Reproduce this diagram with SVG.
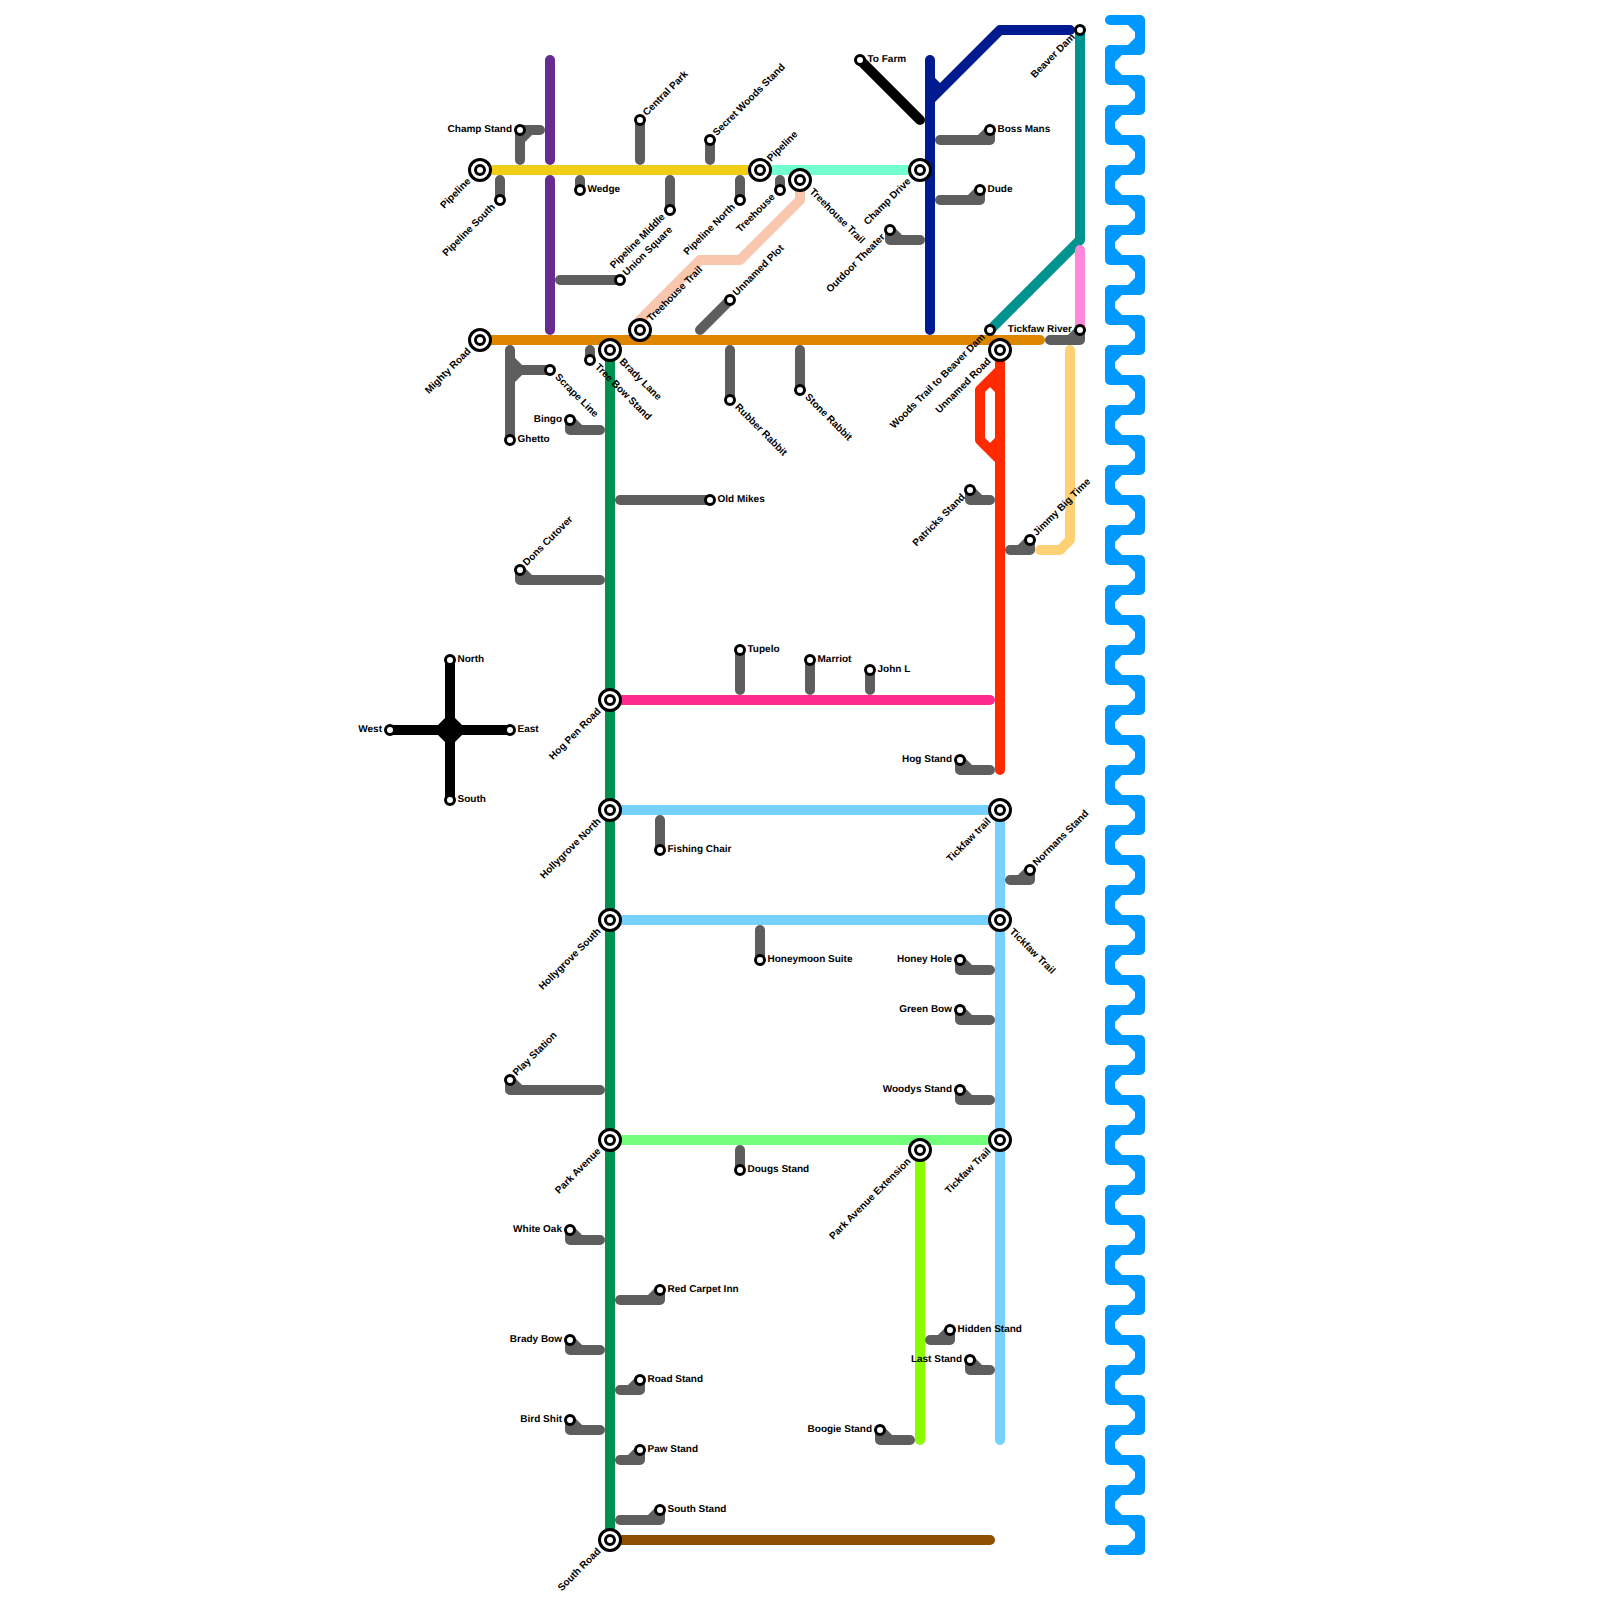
<svg xmlns="http://www.w3.org/2000/svg" width="1600" height="1600" viewBox="0 0 1600 1600">
<style>
.l{fill:none;stroke-width:10;stroke-linecap:round;stroke-linejoin:round}
.gy{stroke:#5e5e5e}.yl{stroke:#f0ce15}.mi{stroke:#73ffd0}.pu{stroke:#662c90}.or{stroke:#df8600}.pe{stroke:#f9c6ae}.gn{stroke:#009150}.pk{stroke:#ff2a8e}.lb{stroke:#76d1ff}.lg{stroke:#73ff7c}.li{stroke:#8cfb00}.br{stroke:#8c5000}.bk{stroke:#000}.nv{stroke:#001a90}.te{stroke:#009490}.pi{stroke:#ff88da}.re{stroke:#ff2a00}.ta{stroke:#ffd175}.bl{stroke:#0099ff}
.ring{fill:#fff;stroke:#000;stroke-width:3}
text{font-family:"Liberation Sans",Arial,sans-serif;font-size:10px;font-weight:700;fill:#000;text-rendering:geometricPrecision}
.e{text-anchor:end}
</style>
<defs>
<g id="s"><circle class="ring" r="4.5"/></g>
<g id="i"><circle class="ring" r="10.5"/><circle class="ring" r="4.5"/></g>
</defs>
<rect width="1600" height="1600" fill="#fff"/>
<g id="connectors">
<path class="l gy" d="M500 180V200M520 160V130H540M520 140L530 130M580 180V190M640 160V120M710 160V140M670 180V210M740 180V200M780 180V190M560 280H620M700 330L730 300M510 350V440M510 360L520 370H550M510 380L520 370M590 350V360M730 350V400M800 350V390"/>
<path class="l gy" d="M600 430H570V420L580 430M620 500H710M600 580H520V570L530 580M740 690V650M810 690V660M870 690V670M990 770H960V760L970 770M660 820V850M1010 880H1030V870L1020 880M760 930V960M990 970H960V960L970 970M990 1020H960V1010L970 1020M600 1090H510V1080L520 1090M990 1100H960V1090L970 1100M740 1150V1170"/>
<path class="l gy" d="M600 1240H570V1230L580 1240M620 1300H660V1290L650 1300M930 1340H950V1330L940 1340M990 1370H970V1360L980 1370M600 1350H570V1340L580 1350M620 1390H640V1380L630 1390M600 1430H570V1420L580 1430M620 1460H640V1450L630 1460M910 1440H880V1430L890 1440M620 1520H660V1510L650 1520"/>
<path class="l gy" d="M940 140H990V130L980 140M940 200H980V190L970 200M920 240H890V230L900 240M1050 340H1080V330L1070 340M1010 550H1030V540L1020 550M990 500H970V490L980 500"/>
<path class="l pu" d="M550 60V160M550 180V330"/>
<path class="l pe" d="M800 180V200L740 260H700L640 320V330"/>
<path class="l mi" d="M760 170H920"/>
<path class="l yl" d="M480 170H750"/>
<path class="l or" d="M480 340H1040"/>
<path class="l gn" d="M610 350V1540"/>
<path class="l pk" d="M610 700H990"/>
<path class="l lb" d="M610 810H1000M610 920H1000M1000 810V1440"/>
<path class="l lg" d="M610 1140H1000"/>
<path class="l li" d="M920 1150V1440"/>
<path class="l br" d="M610 1540H990"/>
<path class="l bk" d="M450 660V800M390 730H510M860 60L920 120"/>
<polygon points="450,713 467,730 450,747 433,730" fill="#000"/>
<path class="l nv" d="M930 60V330M930 80L940 90M930 100L1000 30H1070"/>
<path class="l te" d="M1080 30V240L990 330"/>
<path class="l pi" d="M1080 250V330"/>
<path class="l re" d="M1000 350V770M1000 370L980 390V440L1000 460M990 380L1000 390M990 450L1000 440"/>
<path class="l ta" d="M1070 350V540L1060 550H1040"/>
<path class="l bl" d="M1110 20h30
v30h-30v30h30v30h-30v30h30v30h-30v30h30v30h-30v30h30v30h-30v30h30
v30h-30v30h30v30h-30v30h30v30h-30v30h30v30h-30v30h30v30h-30v30h30
v30h-30v30h30v30h-30v30h30v30h-30v30h30v30h-30v30h30v30h-30v30h30
v30h-30v30h30v30h-30v30h30v30h-30v30h30v30h-30v30h30v30h-30v30h30
v30h-30v30h30v30h-30v30h30v30h-30v30h30v30h-30v30h30v30h-30v30h30
v30h-30"/>
<path class="l bl" d="M1130 20l10 10v10l-10 10h-10l-10 10v10l10 10h10l10 10v10l-10 10h-10l-10 10v10l10 10h10l10 10v10l-10 10h-10l-10 10v10l10 10h10l10 10v10l-10 10h-10l-10 10v10l10 10h10l10 10v10l-10 10h-10l-10 10v10l10 10h10l10 10v10l-10 10h-10l-10 10v10l10 10h10l10 10v10l-10 10h-10l-10 10v10l10 10h10l10 10v10l-10 10h-10l-10 10v10l10 10h10l10 10v10l-10 10h-10l-10 10v10l10 10h10l10 10v10l-10 10h-10l-10 10v10l10 10h10l10 10v10l-10 10h-10l-10 10v10l10 10h10l10 10v10l-10 10h-10l-10 10v10l10 10h10l10 10v10l-10 10h-10l-10 10v10l10 10h10l10 10v10l-10 10h-10l-10 10v10l10 10h10l10 10v10l-10 10h-10l-10 10v10l10 10h10l10 10v10l-10 10h-10l-10 10v10l10 10h10l10 10v10l-10 10h-10l-10 10v10l10 10h10l10 10v10l-10 10h-10l-10 10v10l10 10h10l10 10v10l-10 10h-10l-10 10v10l10 10h10l10 10v10l-10 10h-10l-10 10v10l10 10h10l10 10v10l-10 10h-10l-10 10v10l10 10h10l10 10v10l-10 10h-10l-10 10v10l10 10h10l10 10v10l-10 10h-10l-10 10v10l10 10h10l10 10v10l-10 10h-10l-10 10v10l10 10h10l10 10v10l-10 10h-10l-10 10v10l10 10h10l10 10v10l-10 10"/>
</g>
<g id="n1"><use href="#i" x="480" y="170"/><text class="e" transform="translate(480 170) rotate(-45)" x="-14.5" y="2.2">Pipeline</text></g>
<g id="n2"><use href="#s" x="500" y="200"/><text class="e" transform="translate(500 200) rotate(-45)" x="-8.5" y="2.2">Pipeline South</text></g>
<g id="n3"><use href="#s" x="520" y="130"/><text class="e" x="512" y="132.2">Champ Stand</text></g>
<g id="n4"><use href="#s" x="580" y="190"/><text x="587.5" y="192.2">Wedge</text></g>
<g id="n5"><use href="#s" x="640" y="120"/><text transform="translate(640 120) rotate(-45)" x="7.5" y="2.2">Central Park</text></g>
<g id="n6"><use href="#s" x="710" y="140"/><text transform="translate(710 140) rotate(-45)" x="7.5" y="2.2">Secret Woods Stand</text></g>
<g id="n7"><use href="#s" x="670" y="210"/><text class="e" transform="translate(670 210) rotate(-45)" x="-8.5" y="2.2">Pipeline Middle</text></g>
<g id="n8"><use href="#s" x="740" y="200"/><text class="e" transform="translate(740 200) rotate(-45)" x="-8.5" y="2.2">Pipeline North</text></g>
<g id="n9"><use href="#i" x="760" y="170"/><text transform="translate(760 170) rotate(-45)" x="13.5" y="2.2">Pipeline</text></g>
<g id="n10"><use href="#s" x="780" y="190"/><text class="e" transform="translate(780 190) rotate(-45)" x="-8.5" y="2.2">Treehouse</text></g>
<g id="n11"><use href="#i" x="800" y="180"/><text transform="translate(800 180) rotate(45)" x="15" y="2.2">Treehouse Trail</text></g>
<g id="n12"><use href="#s" x="620" y="280"/><text transform="translate(620 280) rotate(-45)" x="7.5" y="2.2">Union Square</text></g>
<g id="n13"><use href="#i" x="640" y="330"/><text transform="translate(640 330) rotate(-45)" x="13.5" y="2.2">Treehouse Trail</text></g>
<g id="n14"><use href="#s" x="730" y="300"/><text transform="translate(730 300) rotate(-45)" x="7.5" y="2.2">Unnamed Plot</text></g>
<g id="n15"><use href="#i" x="480" y="340"/><text class="e" transform="translate(480 340) rotate(-45)" x="-14.5" y="2.2">Mighty Road</text></g>
<g id="n16"><use href="#i" x="610" y="350"/><text transform="translate(610 350) rotate(45)" x="15" y="2.2">Brady Lane</text></g>
<g id="n17"><use href="#s" x="590" y="360"/><text transform="translate(590 360) rotate(45)" x="8.5" y="2.2">Tree Bow Stand</text></g>
<g id="n18"><use href="#s" x="550" y="370"/><text transform="translate(550 370) rotate(45)" x="8.5" y="2.2">Scrape Line</text></g>
<g id="n19"><use href="#s" x="510" y="440"/><text x="517.5" y="442.2">Ghetto</text></g>
<g id="n20"><use href="#s" x="570" y="420"/><text class="e" x="562" y="422.2">Bingo</text></g>
<g id="n21"><use href="#s" x="730" y="400"/><text transform="translate(730 400) rotate(45)" x="8.5" y="2.2">Rubber Rabbit</text></g>
<g id="n22"><use href="#s" x="800" y="390"/><text transform="translate(800 390) rotate(45)" x="8.5" y="2.2">Stone Rabbit</text></g>
<g id="n23"><use href="#s" x="710" y="500"/><text x="717.5" y="502.2">Old Mikes</text></g>
<g id="n24"><use href="#s" x="520" y="570"/><text transform="translate(520 570) rotate(-45)" x="7.5" y="2.2">Dons Cutover</text></g>
<g id="n25"><use href="#i" x="610" y="700"/><text class="e" transform="translate(610 700) rotate(-45)" x="-14.5" y="2.2">Hog Pen Road</text></g>
<g id="n26"><use href="#s" x="740" y="650"/><text x="747.5" y="652.2">Tupelo</text></g>
<g id="n27"><use href="#s" x="810" y="660"/><text x="817.5" y="662.2">Marriot</text></g>
<g id="n28"><use href="#s" x="870" y="670"/><text x="877.5" y="672.2">John L</text></g>
<g id="n29"><use href="#s" x="960" y="760"/><text class="e" x="952" y="762.2">Hog Stand</text></g>
<g id="n30"><use href="#i" x="610" y="810"/><text class="e" transform="translate(610 810) rotate(-45)" x="-14.5" y="2.2">Hollygrove North</text></g>
<g id="n31"><use href="#s" x="660" y="850"/><text x="667.5" y="852.2">Fishing Chair</text></g>
<g id="n32"><use href="#i" x="1000" y="810"/><text class="e" transform="translate(1000 810) rotate(-45)" x="-14.5" y="2.2">Tickfaw trail</text></g>
<g id="n33"><use href="#s" x="1030" y="870"/><text transform="translate(1030 870) rotate(-45)" x="7.5" y="2.2">Normans Stand</text></g>
<g id="n34"><use href="#i" x="610" y="920"/><text class="e" transform="translate(610 920) rotate(-45)" x="-14.5" y="2.2">Hollygrove South</text></g>
<g id="n35"><use href="#i" x="1000" y="920"/><text transform="translate(1000 920) rotate(45)" x="15" y="2.2">Tickfaw Trail</text></g>
<g id="n36"><use href="#s" x="760" y="960"/><text x="767.5" y="962.2">Honeymoon Suite</text></g>
<g id="n37"><use href="#s" x="960" y="960"/><text class="e" x="952" y="962.2">Honey Hole</text></g>
<g id="n38"><use href="#s" x="960" y="1010"/><text class="e" x="952" y="1012.2">Green Bow</text></g>
<g id="n39"><use href="#s" x="510" y="1080"/><text transform="translate(510 1080) rotate(-45)" x="7.5" y="2.2">Play Station</text></g>
<g id="n40"><use href="#s" x="960" y="1090"/><text class="e" x="952" y="1092.2">Woodys Stand</text></g>
<g id="n41"><use href="#i" x="610" y="1140"/><text class="e" transform="translate(610 1140) rotate(-45)" x="-14.5" y="2.2">Park Avenue</text></g>
<g id="n42"><use href="#s" x="740" y="1170"/><text x="747.5" y="1172.2">Dougs Stand</text></g>
<g id="n43"><use href="#i" x="920" y="1150"/><text class="e" transform="translate(920 1150) rotate(-45)" x="-14.5" y="2.2">Park Avenue Extension</text></g>
<g id="n44"><use href="#i" x="1000" y="1140"/><text class="e" transform="translate(1000 1140) rotate(-45)" x="-14.5" y="2.2">Tickfaw Trail</text></g>
<g id="n45"><use href="#s" x="570" y="1230"/><text class="e" x="562" y="1232.2">White Oak</text></g>
<g id="n46"><use href="#s" x="660" y="1290"/><text x="667.5" y="1292.2">Red Carpet Inn</text></g>
<g id="n47"><use href="#s" x="950" y="1330"/><text x="957.5" y="1332.2">Hidden Stand</text></g>
<g id="n48"><use href="#s" x="970" y="1360"/><text class="e" x="962" y="1362.2">Last Stand</text></g>
<g id="n49"><use href="#s" x="570" y="1340"/><text class="e" x="562" y="1342.2">Brady Bow</text></g>
<g id="n50"><use href="#s" x="640" y="1380"/><text x="647.5" y="1382.2">Road Stand</text></g>
<g id="n51"><use href="#s" x="570" y="1420"/><text class="e" x="562" y="1422.2">Bird Shit</text></g>
<g id="n52"><use href="#s" x="640" y="1450"/><text x="647.5" y="1452.2">Paw Stand</text></g>
<g id="n53"><use href="#s" x="880" y="1430"/><text class="e" x="872" y="1432.2">Boogie Stand</text></g>
<g id="n54"><use href="#s" x="660" y="1510"/><text x="667.5" y="1512.2">South Stand</text></g>
<g id="n55"><use href="#i" x="610" y="1540"/><text class="e" transform="translate(610 1540) rotate(-45)" x="-14.5" y="2.2">South Road</text></g>
<g id="n56"><use href="#s" x="450" y="660"/><text x="457.5" y="662.2">North</text></g>
<g id="n57"><use href="#s" x="450" y="800"/><text x="457.5" y="802.2">South</text></g>
<g id="n58"><use href="#s" x="390" y="730"/><text class="e" x="382" y="732.2">West</text></g>
<g id="n59"><use href="#s" x="510" y="730"/><text x="517.5" y="732.2">East</text></g>
<g id="n60"><use href="#s" x="860" y="60"/><text x="867.5" y="62.2">To Farm</text></g>
<g id="n61"><use href="#s" x="1080" y="30"/><text class="e" transform="translate(1080 30) rotate(-45)" x="-8.5" y="2.2">Beaver Dam</text></g>
<g id="n62"><use href="#s" x="990" y="130"/><text x="997.5" y="132.2">Boss Mans</text></g>
<g id="n63"><use href="#s" x="980" y="190"/><text x="987.5" y="192.2">Dude</text></g>
<g id="n64"><use href="#i" x="920" y="170"/><text class="e" transform="translate(920 170) rotate(-45)" x="-14.5" y="2.2">Champ Drive</text></g>
<g id="n65"><use href="#s" x="890" y="230"/><text class="e" transform="translate(890 230) rotate(-45)" x="-8.5" y="2.2">Outdoor Theater</text></g>
<g id="n66"><use href="#s" x="990" y="330"/><text class="e" transform="translate(990 330) rotate(-45)" x="-8.5" y="2.2">Woods Trail to Beaver Dam</text></g>
<g id="n67"><use href="#s" x="1080" y="330"/><text class="e" x="1072" y="332.2">Tickfaw River</text></g>
<g id="n68"><use href="#i" x="1000" y="350"/><text class="e" transform="translate(1000 350) rotate(-45)" x="-14.5" y="2.2">Unnamed Road</text></g>
<g id="n69"><use href="#s" x="970" y="490"/><text class="e" transform="translate(970 490) rotate(-45)" x="-8.5" y="2.2">Patricks Stand</text></g>
<g id="n70"><use href="#s" x="1030" y="540"/><text transform="translate(1030 540) rotate(-45)" x="7.5" y="2.2">Jimmy Big Time</text></g>
</svg>
